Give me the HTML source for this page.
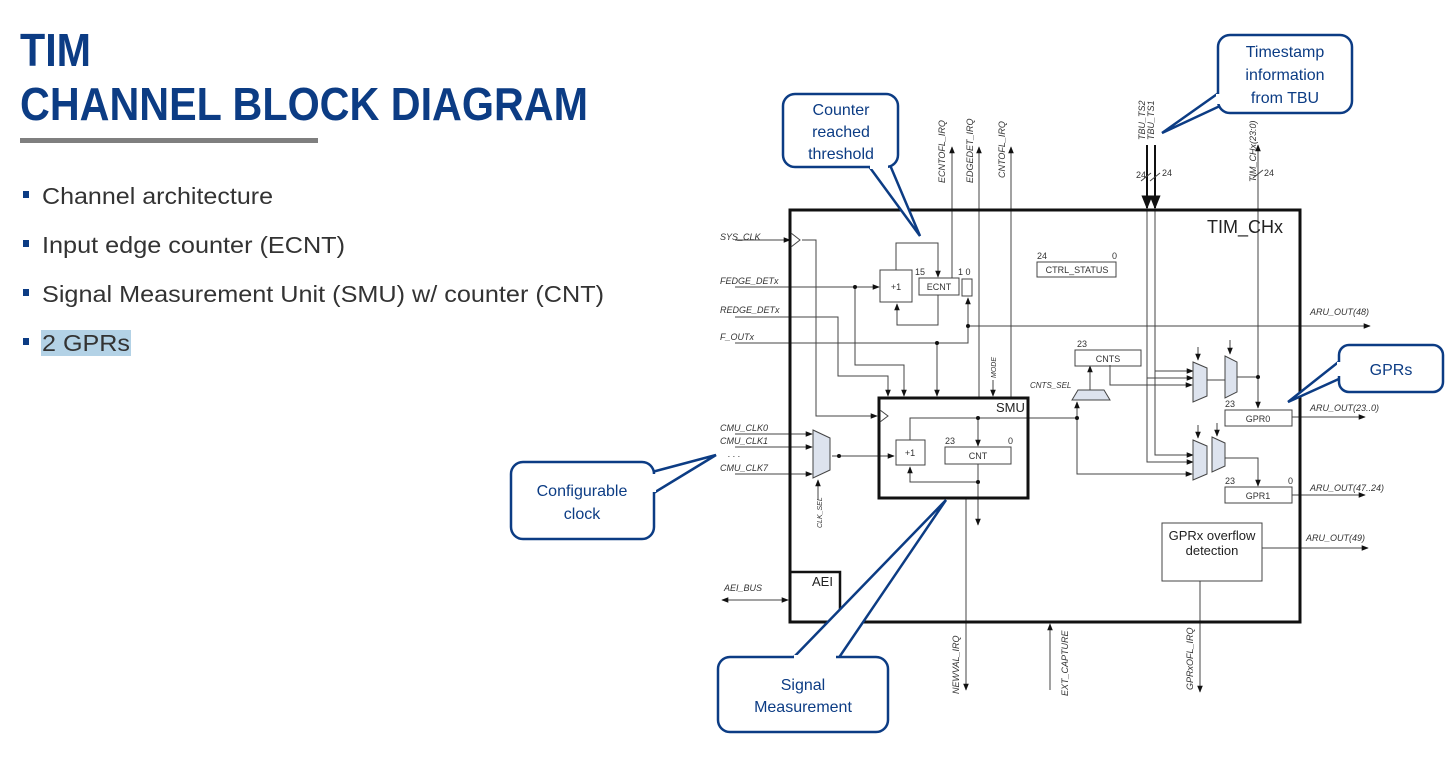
<!DOCTYPE html>
<html><head><meta charset="utf-8"><style>
html,body{margin:0;padding:0;background:#fff;width:1452px;height:762px;overflow:hidden}
svg{display:block}
.t{font-family:"Liberation Sans",sans-serif}
.d{font-family:"Liberation Sans",sans-serif;font-style:italic;font-size:9px;fill:#333}
.s{font-family:"Liberation Sans",sans-serif;font-size:9px;fill:#333}
.c{font-family:"Liberation Sans",sans-serif;font-size:16px;fill:#0c3c84;text-anchor:middle}
</style></head><body>
<svg width="1452" height="762" viewBox="0 0 1452 762" xmlns="http://www.w3.org/2000/svg">
<defs>
<marker id="a" viewBox="0 0 10 10" refX="9" refY="5" markerWidth="7" markerHeight="7" orient="auto-start-reverse"><path d="M0,1 L10,5 L0,9 z" fill="#111"/></marker>
</defs>
<!-- title -->
<text x="20" y="66" class="t" font-size="46" font-weight="bold" fill="#0c3c84" textLength="71" lengthAdjust="spacingAndGlyphs">TIM</text>
<text x="20" y="120" class="t" font-size="46" font-weight="bold" fill="#0c3c84" textLength="568" lengthAdjust="spacingAndGlyphs">CHANNEL BLOCK DIAGRAM</text>
<rect x="20" y="138" width="298" height="5" fill="#7f7f7f"/>
<g class="t" font-size="23" fill="#333">
<rect x="23" y="191" width="6" height="7" fill="#0c3c84"/><text x="42" y="204" textLength="231" lengthAdjust="spacingAndGlyphs">Channel architecture</text>
<rect x="23" y="240" width="6" height="7" fill="#0c3c84"/><text x="42" y="253" textLength="303" lengthAdjust="spacingAndGlyphs">Input edge counter (ECNT)</text>
<rect x="23" y="289" width="6" height="7" fill="#0c3c84"/><text x="42" y="302" textLength="562" lengthAdjust="spacingAndGlyphs">Signal Measurement Unit (SMU) w/ counter (CNT)</text>
<rect x="23" y="338" width="6" height="7" fill="#0c3c84"/><rect x="41" y="330" width="90" height="26" fill="#b3d2e6"/><text x="42" y="351" textLength="88" lengthAdjust="spacingAndGlyphs">2 GPRs</text>
</g>

<g stroke="#444" stroke-width="1" fill="none">
<line x1="952" y1="147" x2="952" y2="278" marker-start="url(#a)"/>
<line x1="979" y1="147" x2="979" y2="398" marker-start="url(#a)"/>
<line x1="1011" y1="147" x2="1011" y2="398" marker-start="url(#a)"/>
<line x1="1258" y1="145" x2="1258" y2="408" marker-start="url(#a)" marker-end="url(#a)"/>
<line x1="1253" y1="178" x2="1263" y2="170"/>
<line x1="1147" y1="145" x2="1147" y2="208" stroke="#111" stroke-width="2" marker-end="url(#a)"/>
<line x1="1155" y1="145" x2="1155" y2="208" stroke="#111" stroke-width="2" marker-end="url(#a)"/>
<line x1="1141" y1="181" x2="1151" y2="173"/><line x1="1150" y1="181" x2="1160" y2="173"/>
<polyline points="1147,210 1147,462 1193,462" marker-end="url(#a)"/>
<polyline points="1155,210 1155,455 1193,455" marker-end="url(#a)"/>
<line x1="1147" y1="378" x2="1193" y2="378" marker-end="url(#a)"/>
<line x1="1155" y1="371" x2="1193" y2="371" marker-end="url(#a)"/>
<line x1="735" y1="240" x2="790" y2="240" marker-end="url(#a)"/>
<polyline points="802,240 816,240 816,416 877,416" marker-end="url(#a)"/>
<line x1="735" y1="287" x2="879" y2="287" marker-end="url(#a)"/>
<polyline points="735,317 838,317 838,376 888,376 888,396" marker-end="url(#a)"/>
<polyline points="735,343 968,343 968,298" marker-end="url(#a)"/>
<polyline points="855,287 855,365 904,365 904,396" marker-end="url(#a)"/>
<line x1="937" y1="343" x2="937" y2="396" marker-end="url(#a)"/>
<line x1="968" y1="326" x2="1370" y2="326" marker-end="url(#a)"/>
<polyline points="896,270 896,243 938,243 938,277" marker-end="url(#a)"/>
<polyline points="938,295 938,325 897,325 897,304" marker-end="url(#a)"/>
<rect x="880" y="270" width="32" height="32"/>
<rect x="919" y="278" width="40" height="17"/>
<rect x="962" y="279" width="10" height="17"/>
<rect x="896" y="440" width="29" height="25"/>
<rect x="945" y="447" width="66" height="17"/>
<polyline points="910,440 910,418 1077,418"/>
<line x1="978" y1="418" x2="978" y2="446" marker-end="url(#a)"/>
<polyline points="978,464 978,482 910,482 910,467" marker-end="url(#a)"/>
<line x1="978" y1="482" x2="978" y2="525" marker-end="url(#a)"/>
<line x1="966" y1="498" x2="966" y2="690" marker-end="url(#a)"/>
<line x1="832" y1="456" x2="894" y2="456" marker-end="url(#a)"/>
<line x1="735" y1="434" x2="812" y2="434" marker-end="url(#a)"/>
<line x1="735" y1="447" x2="812" y2="447" marker-end="url(#a)"/>
<line x1="735" y1="474" x2="812" y2="474" marker-end="url(#a)"/>
<line x1="818" y1="500" x2="818" y2="480" marker-end="url(#a)"/>
<polyline points="1077,418 1077,474 1192,474" marker-end="url(#a)"/>
<line x1="1077" y1="440" x2="1077" y2="402" marker-end="url(#a)"/>
<line x1="1090" y1="390" x2="1090" y2="366" marker-end="url(#a)"/>
<polyline points="1110,365 1110,385 1192,385" marker-end="url(#a)"/>
<line x1="1207" y1="380" x2="1225" y2="380"/>
<polyline points="1237,377 1258,377"/>
<polyline points="1225,458 1258,458 1258,486" marker-end="url(#a)"/>
<line x1="1292" y1="417" x2="1365" y2="417" marker-end="url(#a)"/>
<line x1="1292" y1="495" x2="1365" y2="495" marker-end="url(#a)"/>
<line x1="1262" y1="548" x2="1368" y2="548" marker-end="url(#a)"/>
<line x1="1200" y1="581" x2="1200" y2="692" marker-end="url(#a)"/>
<line x1="1050" y1="690" x2="1050" y2="624" marker-end="url(#a)"/>
<line x1="722" y1="600" x2="788" y2="600" marker-start="url(#a)" marker-end="url(#a)"/>
<line x1="993" y1="380" x2="993" y2="396" marker-end="url(#a)"/>
<rect x="1037" y="262" width="79" height="15"/>
<rect x="1075" y="350" width="66" height="16"/>
<rect x="1225" y="410" width="67" height="16"/>
<rect x="1225" y="487" width="67" height="16"/>
<rect x="1162" y="523" width="100" height="58"/>
<line x1="1198" y1="347" x2="1198" y2="360" marker-end="url(#a)"/>
<line x1="1230" y1="340" x2="1230" y2="354" marker-end="url(#a)"/>
<line x1="1198" y1="425" x2="1198" y2="438" marker-end="url(#a)"/>
<line x1="1217" y1="423" x2="1217" y2="436" marker-end="url(#a)"/>
</g>
<g fill="#dde3ee" stroke="#444">
<path d="M813,430 L830,438 L830,470 L813,478 z"/>
<path d="M1072,400 L1078,390 L1104,390 L1110,400 z"/>
<path d="M1193,362 L1207,368 L1207,396 L1193,402 z"/>
<path d="M1225,356 L1237,362 L1237,392 L1225,398 z"/>
<path d="M1193,440 L1207,446 L1207,474 L1193,480 z"/>
<path d="M1212,437 L1225,443 L1225,466 L1212,472 z"/>
</g>
<g fill="#111">
<circle cx="855" cy="287" r="2"/><circle cx="937" cy="343" r="2"/><circle cx="968" cy="326" r="2"/>
<circle cx="978" cy="418" r="2"/><circle cx="978" cy="482" r="2"/><circle cx="1077" cy="418" r="2"/>
<circle cx="839" cy="456" r="2"/><circle cx="1258" cy="377" r="2"/>
</g>
<rect x="790" y="210" width="510" height="412" fill="none" stroke="#111" stroke-width="3"/>
<rect x="879" y="398" width="149" height="100" fill="none" stroke="#111" stroke-width="3"/>
<rect x="790" y="572" width="50" height="50" fill="none" stroke="#111" stroke-width="2.5"/>
<path d="M791,233 L800,240 L791,247" fill="none" stroke="#444"/>
<path d="M880,410 L888,416 L880,422" fill="none" stroke="#444"/>
<text x="1207" y="233" class="t" font-size="18" fill="#222">TIM_CHx</text>
<text x="996" y="412" class="t" font-size="13" fill="#222">SMU</text>
<text x="812" y="586" class="t" font-size="13" fill="#222">AEI</text>
<text x="896" y="290" class="s" text-anchor="middle">+1</text>
<text x="939" y="290" class="s" text-anchor="middle">ECNT</text>
<text x="910" y="456" class="s" text-anchor="middle">+1</text>
<text x="978" y="459" class="s" text-anchor="middle">CNT</text>
<text x="1077" y="273" class="s" text-anchor="middle">CTRL_STATUS</text>
<text x="1108" y="362" class="s" text-anchor="middle">CNTS</text>
<text x="1258" y="422" class="s" text-anchor="middle">GPR0</text>
<text x="1258" y="499" class="s" text-anchor="middle">GPR1</text>
<text x="1212" y="540" class="t" font-size="13" fill="#222" text-anchor="middle">GPRx overflow</text>
<text x="1212" y="555" class="t" font-size="13" fill="#222" text-anchor="middle">detection</text>
<g class="s" font-size="7"><text x="915" y="275">15</text><text x="958" y="275">1 0</text><text x="945" y="444">23</text><text x="1008" y="444">0</text>
<text x="1037" y="259">24</text><text x="1112" y="259">0</text><text x="1077" y="347">23</text><text x="1225" y="407">23</text><text x="1225" y="484">23</text><text x="1288" y="484">0</text>
<text x="1136" y="178">24</text><text x="1162" y="176">24</text><text x="1264" y="176">24</text></g>
<g class="d">
<text x="720" y="240">SYS_CLK</text>
<text x="720" y="284">FEDGE_DETx</text>
<text x="720" y="313">REDGE_DETx</text>
<text x="720" y="340">F_OUTx</text>
<text x="720" y="431">CMU_CLK0</text>
<text x="720" y="444">CMU_CLK1</text>
<text x="728" y="457">. . .</text>
<text x="720" y="471">CMU_CLK7</text>
<text x="724" y="591">AEI_BUS</text>
<text x="1030" y="388" font-size="8">CNTS_SEL</text>
<text x="1310" y="315">ARU_OUT(48)</text>
<text x="1310" y="411">ARU_OUT(23..0)</text>
<text x="1310" y="491">ARU_OUT(47..24)</text>
<text x="1306" y="541">ARU_OUT(49)</text>
<text transform="translate(945,183) rotate(-90)">ECNTOFL_IRQ</text>
<text transform="translate(973,183) rotate(-90)">EDGEDET_IRQ</text>
<text transform="translate(1005,178) rotate(-90)">CNTOFL_IRQ</text>
<text transform="translate(1145,140) rotate(-90)">TBU_TS2</text>
<text transform="translate(1154,140) rotate(-90)">TBU_TS1</text>
<text transform="translate(1256,182) rotate(-90)">TIM_CHx(23:0)</text>
<text transform="translate(996,378) rotate(-90)" font-size="7">MODE</text>
<text transform="translate(822,528) rotate(-90)" font-size="7">CLK_SEL</text>
<text transform="translate(959,694) rotate(-90)">NEWVAL_IRQ</text>
<text transform="translate(1068,696) rotate(-90)">EXT_CAPTURE</text>
<text transform="translate(1193,690) rotate(-90)">GPRxOFL_IRQ</text>
</g>

<g stroke="#0c3c84" stroke-width="2.5" fill="#fff">
<polygon points="868,165 920,236 890,165"/>
<rect x="783" y="94" width="115" height="73" rx="12"/>
<line x1="870" y1="167" x2="888" y2="167" stroke="#fff" stroke-width="4"/>
<polygon points="1220,92 1162,133 1220,106"/>
<rect x="1218" y="35" width="134" height="78" rx="12"/>
<line x1="1218" y1="94" x2="1218" y2="104" stroke="#fff" stroke-width="4"/>
<polygon points="1341,360 1288,402 1341,378"/>
<rect x="1339" y="345" width="104" height="47" rx="10"/>
<line x1="1339" y1="362" x2="1339" y2="376" stroke="#fff" stroke-width="4"/>
<polygon points="652,472 716,455 652,494"/>
<rect x="511" y="462" width="143" height="77" rx="12"/>
<line x1="654" y1="474" x2="654" y2="492" stroke="#fff" stroke-width="4"/>
<polygon points="792,659 946,500 838,659"/>
<rect x="718" y="657" width="170" height="75" rx="12"/>
<line x1="794" y1="657" x2="836" y2="657" stroke="#fff" stroke-width="4"/>
</g>
<text x="841" y="115" class="c">Counter</text>
<text x="841" y="137" class="c">reached</text>
<text x="841" y="159" class="c">threshold</text>
<text x="1285" y="57" class="c">Timestamp</text>
<text x="1285" y="80" class="c">information</text>
<text x="1285" y="103" class="c">from TBU</text>
<text x="1391" y="375" class="c">GPRs</text>
<text x="582" y="496" class="c">Configurable</text>
<text x="582" y="519" class="c">clock</text>
<text x="803" y="690" class="c">Signal</text>
<text x="803" y="712" class="c">Measurement</text>
</svg>
</body></html>
